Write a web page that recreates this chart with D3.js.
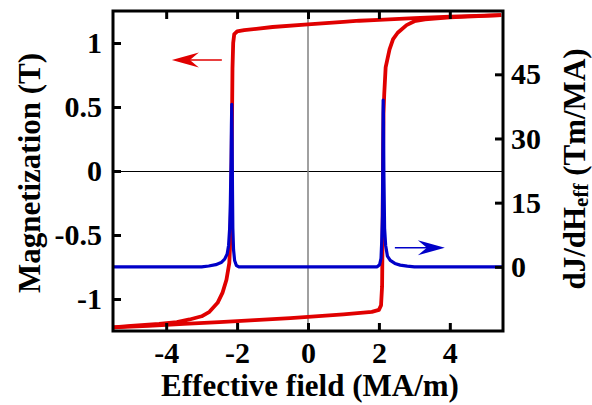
<!DOCTYPE html>
<html><head><meta charset="utf-8">
<script src="https://cdn.jsdelivr.net/npm/d3@7"></script>
<style>body{margin:0;background:#fff} svg{display:block}</style>
</head><body>
<svg id="c" width="592" height="405"></svg>
<script>
// ---- data ----
const xTicks = [-4, -2, 0, 2, 4];
const xTickLabels = ["-4", "-2", "0", "2", "4"];
const yLeftTicks = [-1, -0.5, 0, 0.5, 1];
const yLeftLabels = ["-1", "-0.5", "0", "0.5", "1"];
const yRightTicks = [0, 15, 30, 45];
const yRightLabels = ["0", "15", "30", "45"];

// descending branch of hysteresis loop (H in MA/m, J in T)
const descH = [5.45, 4.5, 4.0, 3.0, 2.0, 1.45, 1.0, 0.0, -1.0, -1.8, -2.0, -2.08, -2.11, -2.13, -2.14, -2.15, -2.16, -2.18, -2.2, -2.22, -2.3, -2.41, -2.55, -2.78, -3.0, -3.34, -3.7, -4.2, -5.0, -5.5];
const descJ = [1.218, 1.21, 1.205, 1.195, 1.18, 1.174, 1.165, 1.145, 1.125, 1.10, 1.09, 1.07, 1.0, 0.8, 0.5, 0.2, -0.1, -0.4, -0.6, -0.72, -0.85, -0.95, -1.03, -1.10, -1.135, -1.16, -1.18, -1.195, -1.21, -1.222];
// ascending branch
const ascH = [-5.5, -4.5, -3.5, -2.5, -1.5, -0.5, 0.0, 1.0, 1.8, 2.0, 2.06, 2.09, 2.1, 2.11, 2.12, 2.13, 2.15, 2.19, 2.3, 2.4, 2.53, 2.78, 3.0, 3.3, 4.0, 5.45];
const ascJ = [-1.222, -1.21, -1.195, -1.18, -1.165, -1.15, -1.14, -1.12, -1.10, -1.085, -1.05, -0.9, -0.6, -0.2, 0.2, 0.45, 0.6, 0.81, 0.95, 1.03, 1.08, 1.14, 1.17, 1.185, 1.2, 1.218];
// derivative dJ/dHeff (Tm/MA)
const derivH = [-5.5, -3.0, -2.8, -2.6, -2.45, -2.35, -2.28, -2.24, -2.21, -2.19, -2.17, -2.16, -2.15, -2.14, -2.13, -2.12, -2.10, -2.07, -2.02, -1.95, 1.95, 2.02, 2.06, 2.08, 2.10, 2.11, 2.12, 2.13, 2.14, 2.16, 2.19, 2.24, 2.32, 2.45, 2.6, 2.8, 3.0, 5.5];
const derivV = [0, 0, 0.2, 0.5, 1.0, 1.8, 3, 5, 9, 15, 25, 33, 38, 30, 18, 9, 4, 1.5, 0.3, 0, 0, 0.5, 2, 6, 12, 25, 39, 34, 22, 9, 5, 2.5, 1.5, 0.8, 0.4, 0.15, 0, 0];

// ---- layout ----
const L = 113, R = 503, T = 11, B = 331;
const svg = d3.select("#c");
const x = d3.scaleLinear().domain([-5.5, 5.5]).range([L, R]);
const yL = d3.scaleLinear().domain([-1.25, 1.25]).range([B, T]);
const yR = d3.scaleLinear().domain([-15, 59.8]).range([B, T]);
const FONT = "'Liberation Serif','Times New Roman',Times,serif";

// zero lines
svg.append("line").attr("x1", L).attr("x2", R).attr("y1", yL(0) + 0.5).attr("y2", yL(0) + 0.5)
  .attr("stroke", "#000").attr("stroke-width", 1);
svg.append("line").attr("x1", x(0)).attr("x2", x(0)).attr("y1", T).attr("y2", B)
  .attr("stroke", "#808080").attr("stroke-width", 1.5);

svg.append("clipPath").attr("id", "clp").append("rect")
  .attr("x", L).attr("y", T).attr("width", R - L).attr("height", B - T);
const g = svg.append("g").attr("clip-path", "url(#clp)");

const lineL = d3.line().x(d => x(d[0])).y(d => yL(d[1]));
const lineR = d3.line().x(d => x(d[0])).y(d => yR(d[1]));

g.append("path").datum(descH.map((h, i) => [h, descJ[i]])).attr("d", lineL)
  .attr("fill", "none").attr("stroke", "#e00000").attr("stroke-width", 3.8).attr("stroke-linejoin", "round");
g.append("path").datum(ascH.map((h, i) => [h, ascJ[i]])).attr("d", lineL)
  .attr("fill", "none").attr("stroke", "#e00000").attr("stroke-width", 3.8).attr("stroke-linejoin", "round");
g.append("path").datum(derivH.map((h, i) => [h, derivV[i]])).attr("d", lineR)
  .attr("fill", "none").attr("stroke", "#0000c8").attr("stroke-width", 3.2).attr("stroke-linejoin", "round");

// arrows
function arrow(x0, x1, yy, color) {
  const dir = Math.sign(x1 - x0);
  svg.append("line").attr("x1", x0).attr("x2", x1 - dir * 10).attr("y1", yy).attr("y2", yy)
    .attr("stroke", color).attr("stroke-width", 1.5);
  const p = [[x1, yy], [x1 - dir * 27, yy - 7.5], [x1 - dir * 18, yy], [x1 - dir * 27, yy + 7.5]];
  svg.append("path").attr("d", "M" + p.join("L") + "Z").attr("fill", color);
}
arrow(x(-2.43), x(-3.84), yL(0.867), "#e00000");
arrow(x(2.45), x(3.86), yR(4.44), "#0000c8");

// axes
function styleAxis(sel) {
  sel.select(".domain").remove();
  sel.selectAll(".tick line").attr("stroke", "#000").attr("stroke-width", 3);
  sel.selectAll(".tick text").attr("font-family", FONT).attr("font-weight", "bold")
    .attr("font-size", 30).attr("fill", "#000");
}
svg.append("g").attr("transform", `translate(0,${B})`)
  .call(d3.axisBottom(x).tickValues(xTicks).tickSize(-8).tickPadding(11)
    .tickFormat((d, i) => xTickLabels[i])).call(styleAxis);
svg.append("g").attr("transform", `translate(0,${T})`)
  .call(d3.axisTop(x).tickValues(xTicks).tickSize(-8).tickFormat("")).call(styleAxis);
svg.append("g").attr("transform", `translate(${L},0)`)
  .call(d3.axisLeft(yL).tickValues(yLeftTicks).tickSize(-8).tickPadding(11)
    .tickFormat((d, i) => yLeftLabels[i])).call(styleAxis);
svg.append("g").attr("transform", `translate(${R},0)`)
  .call(d3.axisRight(yR).tickValues(yRightTicks).tickSize(-8).tickPadding(8)
    .tickFormat((d, i) => yRightLabels[i])).call(styleAxis);

// frame
svg.append("rect").attr("x", L).attr("y", T).attr("width", R - L).attr("height", B - T)
  .attr("fill", "none").attr("stroke", "#000").attr("stroke-width", 3);

// titles
svg.append("text").attr("x", 310).attr("y", 396).attr("text-anchor", "middle")
  .attr("font-family", FONT).attr("font-weight", "bold").attr("font-size", 31)
  .text("Effective field (MA/m)");
svg.append("text").attr("transform", "translate(40,173) rotate(-90)").attr("text-anchor", "middle")
  .attr("font-family", FONT).attr("font-weight", "bold").attr("font-size", 31)
  .text("Magnetization (T)");
const rt = svg.append("text").attr("transform", "translate(585,169) rotate(-90)").attr("text-anchor", "middle")
  .attr("font-family", FONT).attr("font-weight", "bold").attr("font-size", 31);
rt.append("tspan").text("dJ/dH");
rt.append("tspan").attr("font-size", 21).attr("dy", 3).text("eff");
rt.append("tspan").attr("dy", -3).text(" (Tm/MA)");
</script>
</body></html>
